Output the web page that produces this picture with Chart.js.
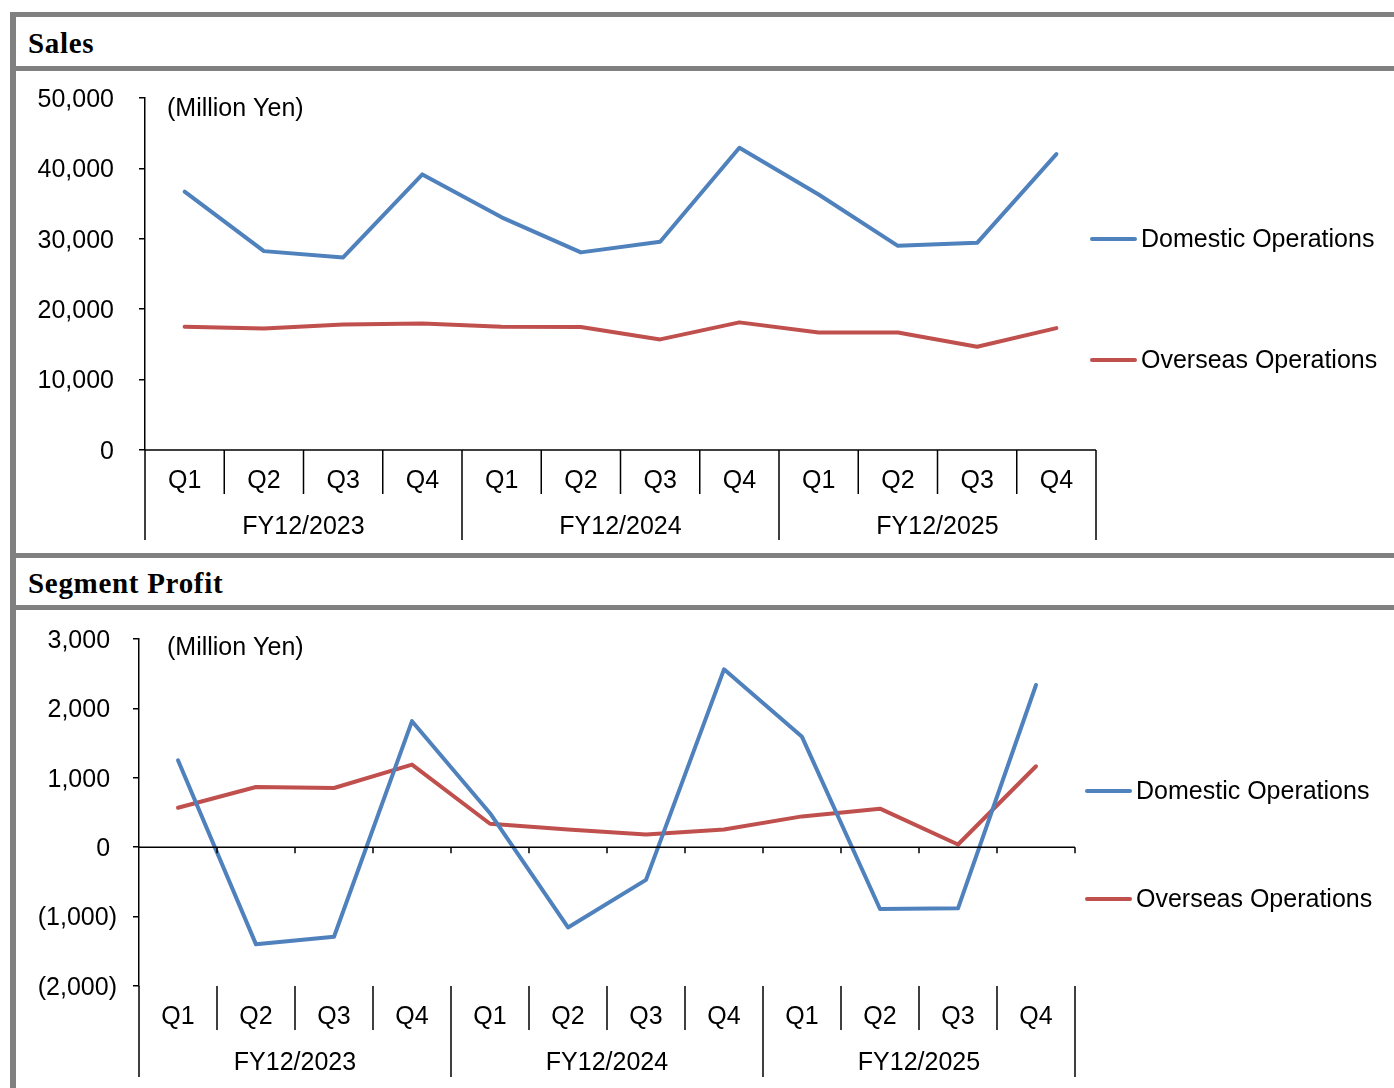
<!DOCTYPE html>
<html lang="en">
<head>
  <meta charset="UTF-8">
  <title>Sales and Segment Profit</title>
  <script src="https://cdn.jsdelivr.net/npm/chart.js"></script>
  <style>
    body { margin: 0; background: #fff; width: 1394px; height: 1088px; position: relative; overflow: hidden; }
    .bar { position: absolute; background: #808080; }
    .title { position: absolute; left: 28px; font-family: "Liberation Serif", serif; font-weight: bold;
             font-size: 29px; line-height: 29px; letter-spacing: 0.7px; color: #000; }
    canvas { position: absolute; left: 16px; }
  </style>
</head>
<body>
  <div class="bar" style="left:10px;top:12px;width:6px;height:1076px"></div>
  <div class="bar" style="left:10px;top:12px;width:1384px;height:5px"></div>
  <div class="bar" style="left:10px;top:66px;width:1384px;height:5px"></div>
  <div class="bar" style="left:10px;top:553px;width:1384px;height:5px"></div>
  <div class="bar" style="left:10px;top:605px;width:1384px;height:5px"></div>
  <div class="title" style="top:29px">Sales</div>
  <div class="title" style="top:569px">Segment Profit</div>
  <canvas id="sales" width="1378" height="482" style="top:71px"></canvas>
  <canvas id="profit" width="1378" height="478" style="top:610px"></canvas>
  <script>
    const quarters = ['Q1', 'Q2', 'Q3', 'Q4', 'Q1', 'Q2', 'Q3', 'Q4', 'Q1', 'Q2', 'Q3', 'Q4'];
    const years = ['FY12/2023', 'FY12/2024', 'FY12/2025'];
    const seriesNames = ['Domestic Operations', 'Overseas Operations'];

    const salesDomestic = [36700, 28250, 27350, 39150, 33050, 28070, 29570, 42930, 36300, 29000, 29430, 42030];
    const salesOverseas = [17500, 17270, 17840, 17980, 17500, 17460, 15710, 18130, 16700, 16700, 14660, 17310];
    const profitDomestic = [1253, -1400, -1290, 1816, 490, -1156, -471, 2563, 1590, -891, -881, 2337];
    const profitOverseas = [569, 867, 853, 1191, 338, 256, 184, 256, 444, 555, 39, 1166];

    const BLUE = '#4F81BD', RED = '#C0504D';
    const FONT = '"Liberation Sans", Arial, sans-serif';
    Chart.defaults.font.family = FONT;
    Chart.defaults.font.size = 25;
    Chart.defaults.color = '#000';

    // draws the two-level category axis, the legend and the unit note
    const catAxis = {
      id: 'catAxis',
      afterDraw(chart, args, o) {
        const ctx = chart.ctx, xs = chart.scales.x, ys = chart.scales.y, area = chart.chartArea;
        const n = chart.data.labels.length;
        const step = xs.getPixelForValue(1) - xs.getPixelForValue(0);
        const left = xs.getPixelForValue(0) - step / 2;
        const base = ys.getPixelForValue(ys.min);
        const zero = ys.getPixelForValue(0);
        ctx.save();
        ctx.strokeStyle = '#000';
        ctx.lineWidth = 1.5;
        ctx.beginPath();
        ctx.moveTo(area.left, zero);
        ctx.lineTo(area.right, zero);
        if (o.zeroTicks) {
          for (let i = 1; i <= n; i++) {
            ctx.moveTo(left + i * step, zero);
            ctx.lineTo(left + i * step, zero + 6);
          }
        }
        for (let i = 0; i <= n; i++) {
          const len = i % 4 === 0 ? o.groupLen : o.qLen;
          ctx.moveTo(left + i * step, base);
          ctx.lineTo(left + i * step, base + len);
        }
        ctx.stroke();

        ctx.fillStyle = '#000';
        ctx.font = '25px ' + FONT;
        ctx.textAlign = 'center';
        ctx.textBaseline = 'middle';
        chart.data.labels.forEach((q, i) => ctx.fillText(q, xs.getPixelForValue(i), base + o.qY));
        years.forEach((y, g) => ctx.fillText(y, left + (g * 4 + 2) * step, base + o.yearY));

        ctx.textAlign = 'left';
        ctx.fillText('(Million Yen)', o.unitX, o.unitY);

        chart.data.datasets.forEach((ds, k) => {
          const y = o.legendY[k];
          ctx.strokeStyle = ds.borderColor;
          ctx.lineWidth = 4;
          ctx.lineCap = 'round';
          ctx.beginPath();
          ctx.moveTo(o.legendX + 2, y);
          ctx.lineTo(o.legendX + 45, y);
          ctx.stroke();
          ctx.fillText(ds.label, o.legendX + 51, y + 1);
        });
        ctx.restore();
      }
    };

    function fmt(v) {
      const s = Math.abs(v).toLocaleString('en-US');
      return v < 0 ? '(' + s + ')' : s + ' ';
    }

    function makeChart(id, dom, ovs, yMin, yMax, yStep, box, extra) {
      const line = (label, data, color) => ({
        label, data, borderColor: color, backgroundColor: color, borderWidth: 4,
        pointRadius: 0, tension: 0, borderCapStyle: 'round', borderJoinStyle: 'round', clip: false
      });
      return new Chart(document.getElementById(id), {
        type: 'line',
        data: {
          labels: quarters,
          datasets: [line(seriesNames[0], dom, BLUE), line(seriesNames[1], ovs, RED)]
        },
        options: {
          responsive: false,
          animation: false,
          layout: { padding: { top: box.top, right: box.right, bottom: box.bottom, left: 0 } },
          plugins: { legend: { display: false }, tooltip: { enabled: false }, catAxis: extra },
          scales: {
            x: { type: 'category', offset: true, display: false },
            y: {
              min: yMin, max: yMax,
              ticks: { stepSize: yStep, padding: box.pad, labelOffset: 2,
                       callback: v => extra.paren ? fmt(v) : v.toLocaleString('en-US') },
              grid: { drawOnChartArea: false, tickLength: 6, color: '#000', lineWidth: 1.5 },
              border: { color: '#000', width: 1.5 },
              afterFit: s => { s.width = box.left; s.paddingTop = 0; s.paddingBottom = 0; }
            }
          }
        },
        plugins: [catAxis]
      });
    }

    makeChart('sales', salesDomestic, salesOverseas, 0, 50000, 10000,
      { top: 27, right: 298, bottom: 103, left: 129, pad: 25 },
      { qLen: 44, groupLen: 90, qY: 31, yearY: 77, zeroTicks: false, paren: false,
        unitX: 151, unitY: 38, legendX: 1074, legendY: [168, 289] });

    makeChart('profit', profitDomestic, profitOverseas, -2000, 3000, 1000,
      { top: 29, right: 319, bottom: 102, left: 123, pad: 16 },
      { qLen: 44, groupLen: 91, qY: 31, yearY: 77, zeroTicks: true, paren: true,
        unitX: 151, unitY: 38, legendX: 1069, legendY: [181, 289] });
  </script>
</body>
</html>
